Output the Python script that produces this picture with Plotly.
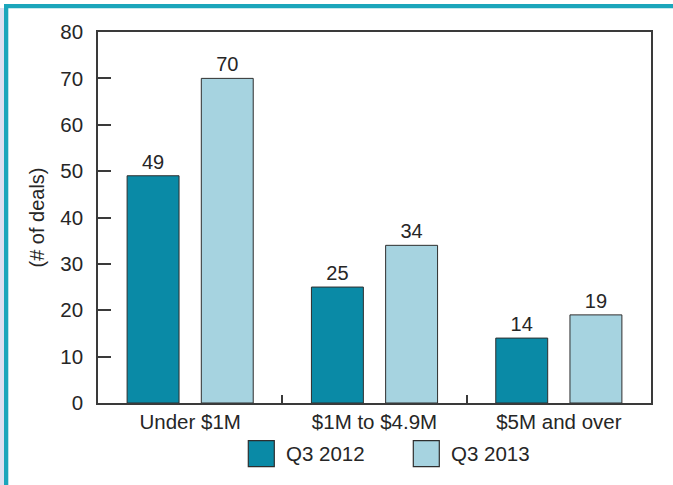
import plotly.graph_objects as go

# ---- data ----
categories = ["Under $1M", "$1M to $4.9M", "$5M and over"]
q3_2012 = [49, 25, 14]
q3_2013 = [70, 34, 19]
series_names = ["Q3 2012", "Q3 2013"]
y_tick_values = [0, 10, 20, 30, 40, 50, 60, 70, 80]
y_title = "(# of deals)"

# ---- styling ----
W, H = 673, 485
ML, MR, MT, MB = 98, 22, 32, 82
PW, PH = W - ML - MR, H - MT - MB
DARK = "#0a8aa6"
LIGHT = "#a6d3e0"
TEAL = "#1ba6bb"
LAVENDER = "#dde0f0"
TXT = "#262626"
FONT = "Liberation Sans, Arial, sans-serif"


def px(x):
    return (x - ML) / PW


def py(y):
    return (H - MB - y) / PH


fig = go.Figure()
for name, vals, col in [(series_names[0], q3_2012, DARK), (series_names[1], q3_2013, LIGHT)]:
    fig.add_trace(go.Bar(
        x=categories, y=vals, name=name,
        marker=dict(color=col, line=dict(color="#2e2e2e", width=1)),
        text=vals, textposition="outside",
        textfont=dict(size=20, color=TXT, family=FONT),
        cliponaxis=False, showlegend=False, hoverinfo="skip",
    ))

shapes = [
    # lavender strip on far left
    dict(type="rect", xref="paper", yref="paper", x0=px(-2), x1=px(4), y0=py(8), y1=py(490),
         fillcolor=LAVENDER, line=dict(width=0), layer="below"),
    # teal frame lines
    dict(type="rect", xref="paper", yref="paper", x0=px(4), x1=px(680), y0=py(4), y1=py(8.3),
         fillcolor=TEAL, line=dict(width=0)),
    dict(type="rect", xref="paper", yref="paper", x0=px(4), x1=px(8.3), y0=py(4), y1=py(490),
         fillcolor=TEAL, line=dict(width=0)),
]

annotations = []
legend_items = [(series_names[0], DARK, 248.3, 284), (series_names[1], LIGHT, 413.3, 449)]
for name, col, sx, tx in legend_items:
    shapes.append(dict(type="rect", xref="paper", yref="paper",
                       x0=px(sx), x1=px(sx + 26), y0=py(440.7), y1=py(466.7),
                       fillcolor=col, line=dict(color="#2e2e2e", width=1.2)))
    annotations.append(dict(xref="paper", yref="paper", x=px(tx), y=py(453.7),
                            text=name, showarrow=False, xanchor="left", yanchor="middle",
                            font=dict(size=20.5, color=TXT, family=FONT)))

fig.update_layout(
    width=W, height=H,
    margin=dict(l=ML, r=MR, t=MT, b=MB, pad=0),
    paper_bgcolor="white", plot_bgcolor="white",
    barmode="group", bargap=0.195, bargroupgap=0.30,
    font=dict(family=FONT, size=20, color=TXT),
    shapes=shapes, annotations=annotations,
    showlegend=False,
)
fig.update_xaxes(
    showline=True, linecolor="#3a3a3a", linewidth=1.5, mirror=True,
    ticks="inside", tickson="boundaries", ticklen=8, tickcolor="#3a3a3a", tickwidth=1.5,
    showgrid=False, tickfont=dict(size=20.5, color=TXT, family=FONT),
)
fig.update_yaxes(
    range=[0, 80], tickvals=y_tick_values, showgrid=False, zeroline=False,
    showline=True, linecolor="#3a3a3a", linewidth=1.5, mirror=True,
    ticks="inside", ticklen=13, tickcolor="#3a3a3a", tickwidth=1.5,
    tickfont=dict(size=20.5, color=TXT, family=FONT), ticklabelstandoff=9,
    title=dict(text=y_title, font=dict(size=20, color=TXT, family=FONT), standoff=10),
)

fig.write_html("out.html", config={"displayModeBar": False},
               post_script="document.body.style.margin='0px';")
